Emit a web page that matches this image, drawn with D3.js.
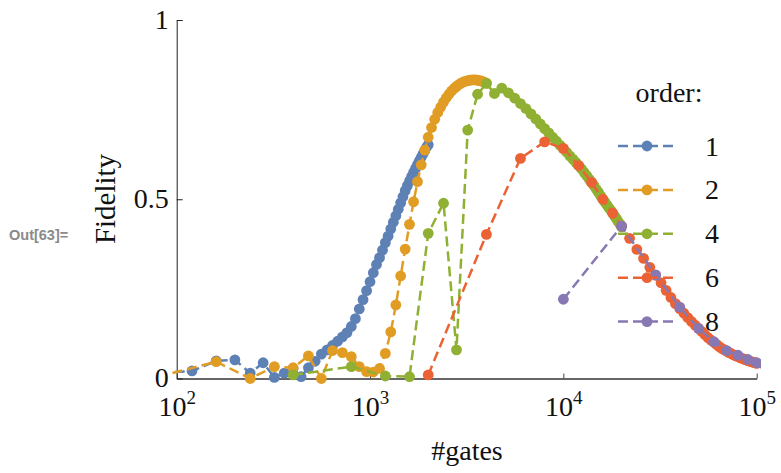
<!DOCTYPE html>
<html>
<head>
<meta charset="utf-8">
<script src="https://cdn.jsdelivr.net/npm/d3@7"></script>
<style>
  html, body { margin: 0; padding: 0; background: #fff; }
  svg { display: block; }
</style>
</head>
<body>
<svg id="chart" width="781" height="473"></svg>
<script>
// ---------- data ----------
const orders = ["1", "2", "4", "6", "8"];
const colors = ["#5E81B5", "#E19C24", "#8FB032", "#EB6235", "#8778B3"];

const gates1 = [40,80,120,160,200,240,280,320,360,400,440,480,520,560,600,640,680,720,760,800,840,880,920,960,1000,1040,1080,1120,1160,1200,1240,1280,1320,1360,1400,1440,1480,1520,1560,1600,1640,1680,1720,1760,1800,1840,1880,1920,1960,2000];
const fid1 = [0.02,0.015,0.021,0.049,0.052,0.015,0.044,0.003,0.015,0.028,0.005,0.03,0.048,0.068,0.08,0.092,0.104,0.116,0.128,0.145,0.167,0.194,0.22,0.245,0.27,0.295,0.318,0.337,0.358,0.379,0.397,0.417,0.436,0.454,0.472,0.49,0.507,0.524,0.538,0.551,0.563,0.575,0.586,0.597,0.607,0.617,0.627,0.636,0.645,0.652];

const gates2 = [80,160,240,320,400,480,560,640,720,800,880,960,1040,1120,1200,1280,1360,1440,1520,1600,1680,1760,1840,1920,2000,2080,2160,2240,2320,2400,2480,2560,2640,2720,2800,2880,2960,3040,3120,3200,3280,3360,3440,3520,3600,3680,3760,3840,3920,4000];
const fid2 = [0.005,0.047,0.0,0.033,0.03,0.063,0.0,0.078,0.072,0.061,0.033,0.019,0.018,0.028,0.07,0.13,0.205,0.286,0.361,0.43,0.493,0.549,0.596,0.637,0.673,0.70,0.723,0.742,0.757,0.771,0.783,0.793,0.802,0.809,0.815,0.82,0.824,0.827,0.829,0.831,0.832,0.833,0.833,0.833,0.832,0.831,0.83,0.828,0.826,0.824];

const gates4 = [400,800,1200,1600,2000,2400,2800,3200,3600,4000,4400,4800,5200,5600,6000,6400,6800,7200,7600,8000,8400,8800,9200,9600,10000,10400,10800,11200,11600,12000,12400,12800,13200,13600,14000,14400,14800,15200,15600,16000,16400,16800,17200,17600,18000,18400,18800,19200,19600,20000];
const fid4 = [0.01,0.033,0.007,0.005,0.405,0.489,0.08,0.693,0.793,0.823,0.795,0.81,0.797,0.782,0.767,0.753,0.738,0.724,0.71,0.697,0.685,0.673,0.662,0.651,0.641,0.631,0.621,0.612,0.603,0.594,0.585,0.575,0.566,0.556,0.547,0.538,0.528,0.519,0.509,0.5,0.492,0.484,0.476,0.469,0.461,0.453,0.446,0.438,0.431,0.423];

const gates6 = [2000,4000,6000,8000,10000,12000,14000,16000,18000,20000,22000,24000,26000,28000,30000,32000,34000,36000,38000,40000,42000,44000,46000,48000,50000,52000,54000,56000,58000,60000,62000,64000,66000,68000,70000,72000,74000,76000,78000,80000,82000,84000,86000,88000,90000,92000,94000,96000,98000,100000];
const fid6 = [0.01,0.402,0.614,0.66,0.642,0.594,0.547,0.5,0.461,0.425,0.391,0.36,0.335,0.31,0.288,0.267,0.246,0.226,0.209,0.195,0.182,0.17,0.159,0.149,0.14,0.131,0.122,0.114,0.107,0.101,0.095,0.089,0.084,0.08,0.076,0.072,0.069,0.066,0.063,0.061,0.058,0.056,0.054,0.052,0.05,0.048,0.047,0.045,0.044,0.042];

const gates8 = [10000,20000,30000,40000,50000,60000,70000,80000,90000,100000,110000];
const fid8 = [0.221,0.425,0.289,0.199,0.14,0.103,0.078,0.065,0.053,0.044,0.037];

const xTicks = [100, 1000, 10000, 100000];
const xTickExp = ["2", "3", "4", "5"];
const yTicks = [0, 0.5, 1];
const yTickLabels = ["0", "0.5", "1"];

const seriesGates = [gates1, gates2, gates4, gates6, gates8];
const seriesFid = [fid1, fid2, fid4, fid6, fid8];

// ---------- drawing ----------
const svg = d3.select("#chart");
const serif = "'Liberation Serif', 'Times New Roman', serif";
const R = 5.4;

const x = d3.scaleLog().domain([100, 100000]).range([176.7, 756.7]);
const y = d3.scaleLinear().domain([0, 1]).range([378.5, 20]);

// "Out[63]=" label
svg.append("text")
  .attr("x", 9).attr("y", 240)
  .attr("font-family", "'Liberation Sans', Arial, sans-serif")
  .attr("font-weight", "bold")
  .attr("font-size", 14.5)
  .attr("fill", "#8a8a8a")
  .text("Out[63]=");

// clip
svg.append("defs").append("clipPath").attr("id", "plotclip")
  .append("rect").attr("x", 172).attr("y", 0).attr("width", 589).attr("height", 473);

// x axis
const xAxis = d3.axisBottom(x)
  .tickValues(xTicks)
  .tickSizeInner(-5)
  .tickSizeOuter(0)
  .tickFormat(() => "");
const gx = svg.append("g").attr("transform", `translate(0,${y(0)})`).call(xAxis);
gx.select(".domain").attr("stroke", "#666").attr("stroke-width", 1.8);
gx.selectAll(".tick line").attr("stroke", "#444").attr("stroke-width", 1);
gx.selectAll(".tick text").each(function(d, i) {
  const t = d3.select(this);
  t.attr("y", 37).attr("dy", null)
   .attr("font-family", serif).attr("font-size", 28).attr("fill", "#111");
  t.append("tspan").text("10");
  t.append("tspan").attr("dy", -12).attr("font-size", 19).text(xTickExp[i]);
});

// y axis
const yAxis = d3.axisLeft(y)
  .tickValues(yTicks)
  .tickSizeInner(-6)
  .tickSizeOuter(0)
  .tickPadding(8)
  .tickFormat((d, i) => yTickLabels[i]);
const gy = svg.append("g").attr("transform", `translate(${x(100)},0)`).call(yAxis);
gy.select(".domain").attr("stroke", "#222").attr("stroke-width", 1);
gy.selectAll(".tick line").attr("stroke", "#222");
gy.selectAll(".tick text")
  .attr("font-family", serif).attr("font-size", 28).attr("fill", "#111")
  .attr("dy", "0.3em");

// axis titles
svg.append("text")
  .attr("x", 467).attr("y", 460)
  .attr("text-anchor", "middle")
  .attr("font-family", serif).attr("font-size", 28).attr("fill", "#111")
  .text("#gates");
svg.append("text")
  .attr("transform", "translate(115,199) rotate(-90)")
  .attr("text-anchor", "middle")
  .attr("font-family", serif).attr("font-size", 29).attr("fill", "#111")
  .text("Fidelity");

// series
const plot = svg.append("g").attr("clip-path", "url(#plotclip)");
const line = d3.line().x(d => x(d[0])).y(d => y(d[1]));
seriesGates.forEach((gs, si) => {
  const pts = gs.map((g, i) => [g, seriesFid[si][i]]);
  const g = plot.append("g");
  g.append("path")
    .attr("d", line(pts))
    .attr("fill", "none")
    .attr("stroke", colors[si])
    .attr("stroke-width", 2.5)
    .attr("stroke-dasharray", "10,5");
  g.selectAll("circle").data(pts).enter().append("circle")
    .attr("cx", d => x(d[0]))
    .attr("cy", d => y(d[1]))
    .attr("r", R)
    .attr("fill", colors[si]);
});

// legend
const lg = svg.append("g");
lg.append("text")
  .attr("x", 669).attr("y", 102)
  .attr("text-anchor", "middle")
  .attr("font-family", serif).attr("font-size", 28).attr("fill", "#111")
  .text("order:");
orders.forEach((o, i) => {
  const cy = 146 + i * 43.9;
  lg.append("line")
    .attr("x1", 618).attr("x2", 676).attr("y1", cy).attr("y2", cy)
    .attr("stroke", colors[i]).attr("stroke-width", 2.5)
    .attr("stroke-dasharray", "10,5");
  lg.append("circle").attr("cx", 647).attr("cy", cy).attr("r", R).attr("fill", colors[i]);
  lg.append("text")
    .attr("x", 712).attr("y", cy + 9.5)
    .attr("text-anchor", "middle")
    .attr("font-family", serif).attr("font-size", 28).attr("fill", "#111")
    .text(o);
});
</script>
</body>
</html>
